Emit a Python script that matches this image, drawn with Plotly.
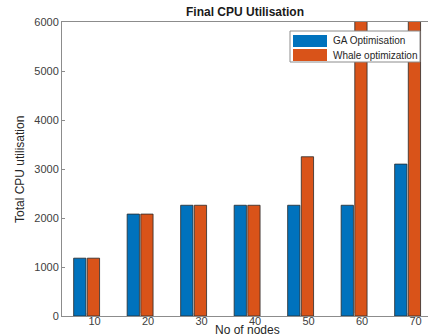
import plotly.graph_objects as go

nodes = [10, 20, 30, 40, 50, 60, 70]
ga_values = [1180, 2080, 2260, 2260, 2260, 2260, 3100]
whale_values = [1180, 2080, 2260, 2260, 3250, 6800, 7400]
y_ticks = [0, 1000, 2000, 3000, 4000, 5000, 6000]
series_names = ["GA Optimisation", "Whale optimization"]
series_colors = ["#0072BD", "#D95319"]

W, H = 428, 336
L, R, T, B = 62, 0, 22, 20
pw = W - L - R
ph = H - T - B


def px_x(px):
    return (px - L) / pw


def px_y(py):
    return (H - B - py) / ph


fig = go.Figure()
for name, vals, col in zip(series_names, [ga_values, whale_values], series_colors):
    fig.add_trace(go.Bar(x=nodes, y=vals, name=name,
                         marker=dict(color=col, line=dict(color="#2a2a2a", width=0.8))))

font_main = "Liberation Sans, Arial, sans-serif"

# custom legend (MATLAB style, wide swatches)
shapes = [dict(type="rect", xref="paper", yref="paper", x0=px_x(290), x1=px_x(420),
               y0=px_y(62), y1=px_y(31), fillcolor="white", line=dict(color="#8c8c8c", width=1),
               layer="above")]
annotations = []
for i, (name, col) in enumerate(zip(series_names, series_colors)):
    yc = 41 + 14 * i
    shapes.append(dict(type="rect", xref="paper", yref="paper", x0=px_x(293), x1=px_x(327),
                       y0=px_y(yc + 6), y1=px_y(yc - 6), fillcolor=col,
                       line=dict(color=col, width=0), layer="above"))
    annotations.append(dict(text=name, xref="paper", yref="paper", x=px_x(331), y=px_y(yc),
                            xanchor="left", yanchor="middle", showarrow=False,
                            font=dict(size=10, color="#262626")))

annotations += [
    dict(text="No of nodes", xref="paper", yref="paper", x=px_x(247),
         y=px_y(330), xanchor="center", yanchor="middle",
         showarrow=False, font=dict(size=12, color="#262626")),
    dict(text="Total CPU utilisation", xref="paper", yref="paper", x=px_x(20),
         y=px_y(170), xanchor="center", yanchor="middle", textangle=-90,
         showarrow=False, font=dict(size=12, color="#262626")),
]

fig.update_layout(
    width=W, height=H,
    margin=dict(l=L, r=R, t=T, b=B),
    paper_bgcolor="white", plot_bgcolor="white",
    barmode="group", bargap=0.49, bargroupgap=0.1,
    font=dict(family=font_main, size=11, color="#404040"),
    title=dict(text="<b>Final CPU Utilisation</b>", x=(L + pw / 2) / W, xanchor="center",
               y=1 - 12 / H, yanchor="middle", font=dict(size=12, color="#1a1a1a")),
    showlegend=False,
    xaxis=dict(range=[5.4, 5.4 + pw / 5.35], tickvals=nodes, ticktext=[str(n) for n in nodes],
               showgrid=False, zeroline=False, showline=True, linecolor="#8c8c8c", linewidth=1,
               mirror=True, ticks="inside", ticklen=3, tickcolor="#8c8c8c",
               ticklabelshift=8, ticklabelstandoff=-5, tickfont=dict(size=11, color="#404040")),
    yaxis=dict(range=[0, 6000], tickvals=y_ticks, showgrid=False, zeroline=False,
               showline=True, linecolor="#8c8c8c", linewidth=1, ticks="inside", ticklen=3,
               tickcolor="#8c8c8c", tickfont=dict(size=11, color="#404040")),
    shapes=shapes,
    annotations=annotations,
)

fig.write_html("out.html", config={"displayModeBar": False},
               post_script="document.body.style.margin='0';")
